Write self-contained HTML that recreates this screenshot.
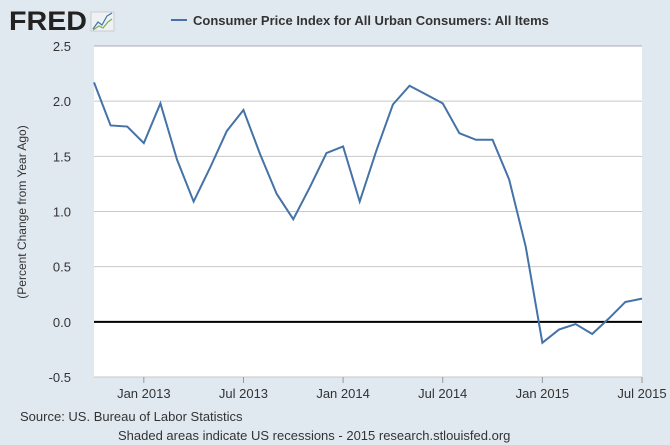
<!DOCTYPE html>
<html><head><meta charset="utf-8"><style>
body{margin:0;background:#e1e9f0;font-family:"Liberation Sans",sans-serif;}
</style></head><body>
<svg id="c" width="670" height="445" xmlns="http://www.w3.org/2000/svg" style="display:block">
<rect width="670" height="445" fill="#e1e9f0"/>
<g>
<text x="9" y="30" font-size="27" font-weight="bold" fill="#222" font-family="Liberation Sans,sans-serif" textLength="78" lengthAdjust="spacingAndGlyphs">FRED</text>
<rect x="91" y="12" width="23" height="19" fill="#eef2f4" stroke="#ccc"/>
<polyline points="93,29 98,22 102,25 107,16 112,13" fill="none" stroke="#4572a7" stroke-width="1.2"/>
<polyline points="93,30 99,26 103,28 108,22 112,19" fill="none" stroke="#7fae5a" stroke-width="1.2"/>
</g>
<g>
<line x1="171" y1="20" x2="187" y2="20" stroke="#4572a7" stroke-width="2"/>
<text x="193" y="25" font-size="13" font-weight="bold" fill="#333">Consumer Price Index for All Urban Consumers: All Items</text>
</g>
<rect x="94" y="46" width="548" height="331" fill="#fff"/>
<line x1="94" y1="46" x2="642" y2="46" stroke="#aab" stroke-width="1"/>
<g id="grid"></g><g id="yt"></g><g id="xt"></g><g id="ser"></g>
<text transform="translate(26,212) rotate(-90)" text-anchor="middle" font-size="12" fill="#333">(Percent Change from Year Ago)</text>
<text x="20" y="421" font-size="13" fill="#333">Source: US. Bureau of Labor Statistics</text>
<text x="118" y="440" font-size="13" fill="#333">Shaded areas indicate US recessions - 2015 research.stlouisfed.org</text>
</svg>
<script>
const yTicks=[-0.5,0,0.5,1,1.5,2,2.5];
const yLabels=["-0.5","0.0","0.5","1.0","1.5","2.0","2.5"];
const xTickMonths=[3,9,15,21,27,33];
const xLabels=["Jan 2013","Jul 2013","Jan 2014","Jul 2014","Jan 2015","Jul 2015"];
const values=[2.17,1.78,1.77,1.62,1.98,1.47,1.09,1.40,1.73,1.92,1.52,1.16,0.93,1.22,1.53,1.59,1.09,1.55,1.97,2.14,2.06,1.98,1.71,1.65,1.65,1.29,0.68,-0.19,-0.07,-0.02,-0.11,0.03,0.18,0.21];
const NS="http://www.w3.org/2000/svg";
const x=i=>94+i*(548/33);
const y=v=>377-(v+0.5)*(331/3);
const grid=document.getElementById('grid'),yt=document.getElementById('yt'),xt=document.getElementById('xt'),ser=document.getElementById('ser');
yTicks.forEach((t,i)=>{
 if(t!==0&&t!==2.5){const l=document.createElementNS(NS,'line');
 l.setAttribute('x1',94);l.setAttribute('x2',642);l.setAttribute('y1',y(t));l.setAttribute('y2',y(t));
 l.setAttribute('stroke','#c8c8c8');
 
 
 grid.appendChild(l);}
 const tx=document.createElementNS(NS,'text');
 tx.setAttribute('x',71);tx.setAttribute('y',y(t)+5);tx.setAttribute('text-anchor','end');
 tx.setAttribute('font-size','13');tx.setAttribute('fill','#333');tx.textContent=yLabels[i];
 
 
 yt.appendChild(tx);
});
const z=document.createElementNS(NS,'line');
z.setAttribute('x1',94);z.setAttribute('x2',642);z.setAttribute('y1',y(0));z.setAttribute('y2',y(0));
z.setAttribute('stroke','#000');z.setAttribute('stroke-width','2');


grid.appendChild(z);
xTickMonths.forEach((m,i)=>{
 const l=document.createElementNS(NS,'line');
 l.setAttribute('x1',x(m));l.setAttribute('x2',x(m));l.setAttribute('y1',377);l.setAttribute('y2',383);l.setAttribute('stroke','#999');
 
 
 xt.appendChild(l);
 const tx=document.createElementNS(NS,'text');
 tx.setAttribute('x',x(m));tx.setAttribute('y',398);tx.setAttribute('text-anchor','middle');
 tx.setAttribute('font-size','13');tx.setAttribute('fill','#333');tx.textContent=xLabels[i];
 
 
 xt.appendChild(tx);
});
const p=document.createElementNS(NS,'polyline');
p.setAttribute('points',values.map((v,i)=>x(i)+','+y(v)).join(' '));
p.setAttribute('fill','none');p.setAttribute('stroke','#4572a7');p.setAttribute('stroke-width','2');


ser.appendChild(p);
</script>
</body></html>
